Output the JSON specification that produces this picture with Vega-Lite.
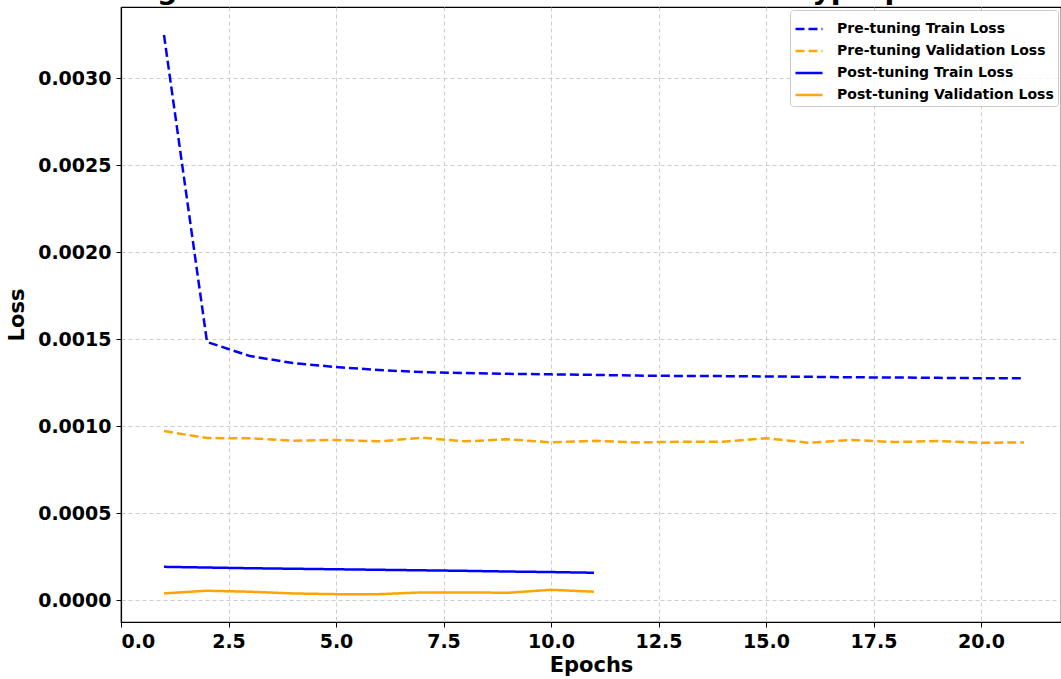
{
  "$schema": "https://vega.github.io/schema/vega-lite/v6.json",
  "width": 940,
  "height": 615,
  "autosize": {"type": "none"},
  "padding": {"left": 121, "top": 7, "right": 0, "bottom": 57},
  "background": "white",
  "title": {
    "text": "Training and Validation Loss Before and After Hyperparameter Tuning",
    "anchor": "middle",
    "frame": "group",
    "baseline": "alphabetic",
    "offset": -20,
    "dx": 18,
    "font": "DejaVu Sans",
    "fontSize": 28.5,
    "fontWeight": "bold",
    "color": "black"
  },
  "data": {
    "values": [
      {"epoch": 1, "loss": 0.003247, "series": "Pre-tuning Train Loss"},
      {"epoch": 2, "loss": 0.001483, "series": "Pre-tuning Train Loss"},
      {"epoch": 3, "loss": 0.001402, "series": "Pre-tuning Train Loss"},
      {"epoch": 4, "loss": 0.001362, "series": "Pre-tuning Train Loss"},
      {"epoch": 5, "loss": 0.001339, "series": "Pre-tuning Train Loss"},
      {"epoch": 6, "loss": 0.001322, "series": "Pre-tuning Train Loss"},
      {"epoch": 7, "loss": 0.00131, "series": "Pre-tuning Train Loss"},
      {"epoch": 8, "loss": 0.001305, "series": "Pre-tuning Train Loss"},
      {"epoch": 9, "loss": 0.0013, "series": "Pre-tuning Train Loss"},
      {"epoch": 10, "loss": 0.001297, "series": "Pre-tuning Train Loss"},
      {"epoch": 11, "loss": 0.001294, "series": "Pre-tuning Train Loss"},
      {"epoch": 12, "loss": 0.00129, "series": "Pre-tuning Train Loss"},
      {"epoch": 13, "loss": 0.001288, "series": "Pre-tuning Train Loss"},
      {"epoch": 14, "loss": 0.001287, "series": "Pre-tuning Train Loss"},
      {"epoch": 15, "loss": 0.001285, "series": "Pre-tuning Train Loss"},
      {"epoch": 16, "loss": 0.001283, "series": "Pre-tuning Train Loss"},
      {"epoch": 17, "loss": 0.00128, "series": "Pre-tuning Train Loss"},
      {"epoch": 18, "loss": 0.001279, "series": "Pre-tuning Train Loss"},
      {"epoch": 19, "loss": 0.001277, "series": "Pre-tuning Train Loss"},
      {"epoch": 20, "loss": 0.001275, "series": "Pre-tuning Train Loss"},
      {"epoch": 21, "loss": 0.001274, "series": "Pre-tuning Train Loss"},
      {"epoch": 1, "loss": 0.000971, "series": "Pre-tuning Validation Loss"},
      {"epoch": 2, "loss": 0.000931, "series": "Pre-tuning Validation Loss"},
      {"epoch": 3, "loss": 0.00093, "series": "Pre-tuning Validation Loss"},
      {"epoch": 4, "loss": 0.000916, "series": "Pre-tuning Validation Loss"},
      {"epoch": 5, "loss": 0.00092, "series": "Pre-tuning Validation Loss"},
      {"epoch": 6, "loss": 0.000912, "series": "Pre-tuning Validation Loss"},
      {"epoch": 7, "loss": 0.000933, "series": "Pre-tuning Validation Loss"},
      {"epoch": 8, "loss": 0.000912, "series": "Pre-tuning Validation Loss"},
      {"epoch": 9, "loss": 0.000924, "series": "Pre-tuning Validation Loss"},
      {"epoch": 10, "loss": 0.000906, "series": "Pre-tuning Validation Loss"},
      {"epoch": 11, "loss": 0.000915, "series": "Pre-tuning Validation Loss"},
      {"epoch": 12, "loss": 0.000906, "series": "Pre-tuning Validation Loss"},
      {"epoch": 13, "loss": 0.00091, "series": "Pre-tuning Validation Loss"},
      {"epoch": 14, "loss": 0.00091, "series": "Pre-tuning Validation Loss"},
      {"epoch": 15, "loss": 0.00093, "series": "Pre-tuning Validation Loss"},
      {"epoch": 16, "loss": 0.000904, "series": "Pre-tuning Validation Loss"},
      {"epoch": 17, "loss": 0.00092, "series": "Pre-tuning Validation Loss"},
      {"epoch": 18, "loss": 0.000908, "series": "Pre-tuning Validation Loss"},
      {"epoch": 19, "loss": 0.000914, "series": "Pre-tuning Validation Loss"},
      {"epoch": 20, "loss": 0.000904, "series": "Pre-tuning Validation Loss"},
      {"epoch": 21, "loss": 0.000906, "series": "Pre-tuning Validation Loss"},
      {"epoch": 1, "loss": 0.000191, "series": "Post-tuning Train Loss"},
      {"epoch": 2, "loss": 0.000187, "series": "Post-tuning Train Loss"},
      {"epoch": 3, "loss": 0.000183, "series": "Post-tuning Train Loss"},
      {"epoch": 4, "loss": 0.00018, "series": "Post-tuning Train Loss"},
      {"epoch": 5, "loss": 0.000177, "series": "Post-tuning Train Loss"},
      {"epoch": 6, "loss": 0.000174, "series": "Post-tuning Train Loss"},
      {"epoch": 7, "loss": 0.000171, "series": "Post-tuning Train Loss"},
      {"epoch": 8, "loss": 0.000168, "series": "Post-tuning Train Loss"},
      {"epoch": 9, "loss": 0.000164, "series": "Post-tuning Train Loss"},
      {"epoch": 10, "loss": 0.000161, "series": "Post-tuning Train Loss"},
      {"epoch": 11, "loss": 0.000157, "series": "Post-tuning Train Loss"},
      {"epoch": 1, "loss": 0.0000385, "series": "Post-tuning Validation Loss"},
      {"epoch": 2, "loss": 0.0000536, "series": "Post-tuning Validation Loss"},
      {"epoch": 3, "loss": 0.000048, "series": "Post-tuning Validation Loss"},
      {"epoch": 4, "loss": 0.000038, "series": "Post-tuning Validation Loss"},
      {"epoch": 5, "loss": 0.000034, "series": "Post-tuning Validation Loss"},
      {"epoch": 6, "loss": 0.000034, "series": "Post-tuning Validation Loss"},
      {"epoch": 7, "loss": 0.000044, "series": "Post-tuning Validation Loss"},
      {"epoch": 8, "loss": 0.000044, "series": "Post-tuning Validation Loss"},
      {"epoch": 9, "loss": 0.000042, "series": "Post-tuning Validation Loss"},
      {"epoch": 10, "loss": 0.000059, "series": "Post-tuning Validation Loss"},
      {"epoch": 11, "loss": 0.000048, "series": "Post-tuning Validation Loss"}
    ]
  },
  "mark": {"type": "line", "strokeWidth": 2.5, "clip": true},
  "encoding": {
    "x": {
      "field": "epoch",
      "type": "quantitative",
      "scale": {"domain": [0, 21.86], "nice": false, "zero": false},
      "axis": {"title": "Epochs", "values": [0, 2.5, 5, 7.5, 10, 12.5, 15, 17.5, 20], "format": ".1f", "titlePadding": 3}
    },
    "y": {
      "field": "loss",
      "type": "quantitative",
      "scale": {"domain": [-0.000126, 0.003408], "nice": false, "zero": false},
      "axis": {"title": "Loss", "values": [0, 0.0005, 0.001, 0.0015, 0.002, 0.0025, 0.003], "format": ".4f", "titlePadding": 10}
    },
    "color": {
      "field": "series",
      "type": "nominal",
      "scale": {
        "domain": ["Pre-tuning Train Loss", "Pre-tuning Validation Loss", "Post-tuning Train Loss", "Post-tuning Validation Loss"],
        "range": ["#0000ff", "#ffa500", "#0000ff", "#ffa500"]
      },
      "legend": {"title": null}
    },
    "strokeDash": {
      "field": "series",
      "type": "nominal",
      "scale": {
        "domain": ["Pre-tuning Train Loss", "Pre-tuning Validation Loss", "Post-tuning Train Loss", "Post-tuning Validation Loss"],
        "range": [[9, 4], [9, 4], [1, 0], [1, 0]]
      },
      "legend": {"title": null}
    }
  },
  "config": {
    "view": {"stroke": "black", "strokeWidth": 1.2},
    "axis": {
      "grid": true,
      "gridDash": [4, 3],
      "gridColor": "#c0c0c0",
      "gridWidth": 0.8,
      "domainColor": "black",
      "domainWidth": 1.2,
      "tickColor": "black",
      "tickSize": 5,
      "tickWidth": 1,
      "labelFont": "DejaVu Sans",
      "labelFontWeight": "bold",
      "labelFontSize": 19,
      "labelColor": "black",
      "labelPadding": 5,
      "titleFont": "DejaVu Sans",
      "titleFontSize": 21,
      "titleFontWeight": "bold",
      "titleColor": "black"
    },
    "legend": {
      "orient": "top-right",
      "offset": 3,
      "symbolType": "stroke",
      "symbolSize": 729,
      "symbolStrokeWidth": 2.5,
      "labelFont": "DejaVu Sans",
      "labelFontWeight": "bold",
      "labelFontSize": 14,
      "labelColor": "black",
      "labelOffset": 13,
      "labelLimit": 400,
      "fillColor": "rgba(255,255,255,0.8)",
      "strokeColor": "#cccccc",
      "cornerRadius": 3,
      "padding": 4,
      "rowPadding": -1
    }
  }
}
